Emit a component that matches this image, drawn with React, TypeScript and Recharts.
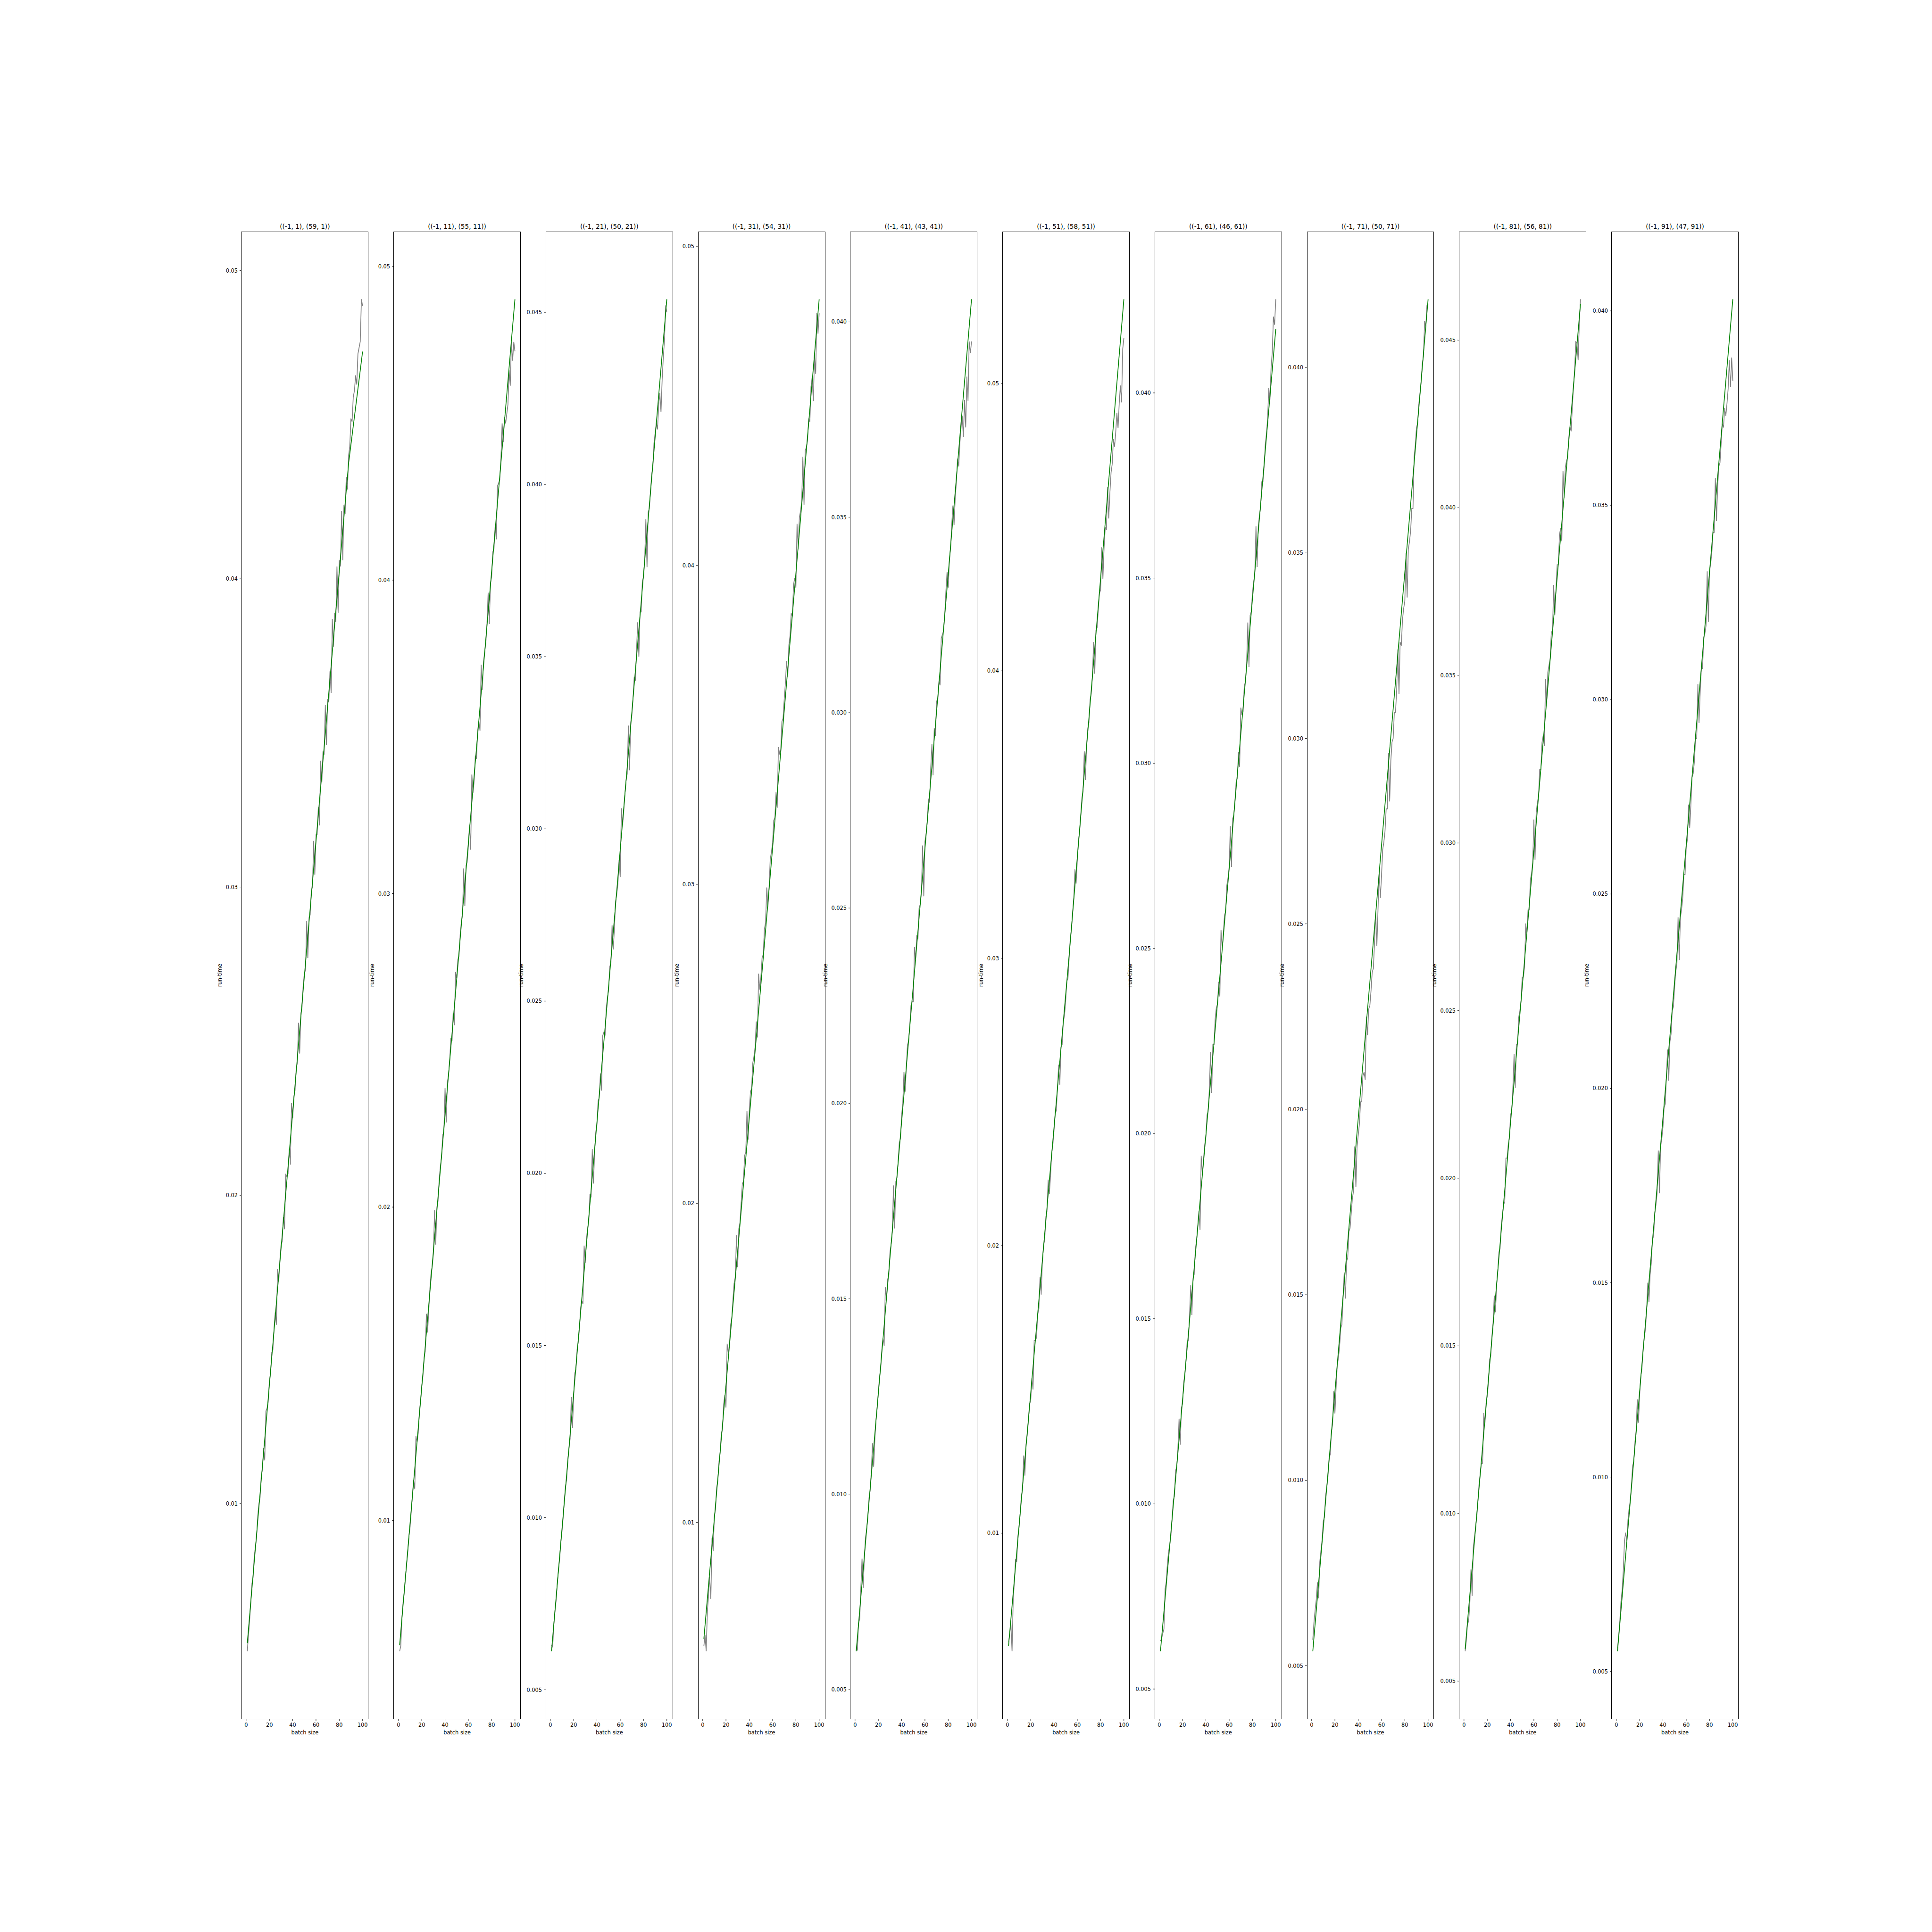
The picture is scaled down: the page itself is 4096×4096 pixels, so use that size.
import { LineChart, Line, XAxis, YAxis } from "recharts"

// one panel per fragment shape; measured run-time in ms for batch sizes 1..100
const titles = [
  "((-1, 1), (59, 1))",
  "((-1, 11), (55, 11))",
  "((-1, 21), (50, 21))",
  "((-1, 31), (54, 31))",
  "((-1, 41), (43, 41))",
  "((-1, 51), (58, 51))",
  "((-1, 61), (46, 61))",
  "((-1, 71), (50, 71))",
  "((-1, 81), (56, 81))",
  "((-1, 91), (47, 91))",
]

const runTimeMs1 = [
  5.21, 5.7, 6.2, 6.8, 7.4, 7.6, 8.3, 8.6, 8.9, 9.6, 10.0, 10.2, 10.9, 11.1, 11.8, 11.4, 13.0, 13.1, 13.3, 14.0,
  14.2, 14.9, 15.0, 15.7, 16.2, 15.8, 17.6, 17.2, 17.9, 18.4, 18.5, 19.3, 18.9, 20.7, 20.6, 20.7, 21.5, 21.0, 23.0, 22.5,
  23.2, 23.4, 24.1, 24.3, 25.6, 24.6, 25.9, 26.1, 26.8, 27.2, 27.3, 28.9, 27.7, 29.0, 29.1, 29.9, 30.0, 31.5, 30.4, 31.7,
  31.7, 32.6, 32.0, 34.1, 33.4, 34.4, 34.3, 35.9, 34.6, 36.1, 36.0, 37.0, 36.3, 38.7, 37.8, 38.9, 38.6, 40.4, 38.9, 40.6,
  40.4, 42.2, 40.6, 42.4, 42.1, 43.3, 42.9, 44.0, 44.3, 45.2, 45.1, 45.9, 46.1, 46.6, 46.3, 47.3, 47.5, 47.7, 49.07, 48.85,
]
const runTimeMs2 = [
  5.83, 6.0, 6.9, 7.4, 7.7, 8.2, 8.6, 9.0, 9.5, 9.8, 10.3, 10.8, 11.3, 11.0, 12.7, 12.5, 12.8, 13.5, 13.8, 14.3,
  14.6, 15.2, 15.4, 16.6, 16.0, 16.7, 17.4, 17.9, 18.1, 18.5, 19.9, 18.8, 20.0, 20.2, 20.9, 21.3, 21.6, 22.3, 22.4, 23.8,
  22.7, 24.0, 24.2, 24.7, 25.4, 25.3, 26.2, 25.8, 27.5, 27.3, 27.9, 28.0, 28.7, 29.1, 29.3, 30.8, 29.6, 30.9, 31.0, 31.5,
  32.2, 31.4, 33.8, 33.2, 33.6, 34.4, 34.3, 35.2, 35.5, 35.2, 37.3, 36.5, 37.4, 37.7, 38.0, 38.6, 39.6, 38.6, 39.9, 40.1,
  40.9, 41.0, 41.7, 41.3, 43.0, 43.1, 43.2, 43.9, 45.0, 44.4, 45.2, 45.0, 45.3, 45.6, 46.7, 46.2, 47.6, 47.0, 47.6, 47.3,
]
const runTimeMs3 = [
  6.3, 6.25, 6.9, 7.3, 7.6, 8.1, 8.5, 8.8, 9.3, 9.6, 10.0, 10.5, 10.9, 11.1, 11.7, 12.0, 12.3, 13.5, 12.6, 13.5,
  14.2, 14.3, 14.9, 15.1, 15.5, 16.1, 16.3, 16.2, 17.9, 17.4, 18.1, 18.4, 18.6, 19.4, 19.3, 20.7, 19.7, 20.6, 21.2, 21.4,
  22.1, 22.2, 22.9, 22.4, 24.0, 24.1, 24.0, 24.8, 25.1, 25.3, 26.0, 26.1, 27.2, 26.5, 27.1, 27.9, 28.1, 28.4, 29.1, 28.6,
  30.6, 30.1, 30.5, 31.0, 31.4, 31.6, 33.0, 31.7, 33.1, 33.3, 33.8, 34.4, 34.3, 35.2, 36.0, 35.0, 36.3, 36.3, 37.2, 37.3,
  37.8, 39.0, 37.6, 39.2, 39.3, 39.8, 40.3, 40.5, 41.2, 41.5, 41.8, 41.6, 42.3, 42.65, 42.1, 43.05, 43.7, 44.2, 45.2, 45.0,
]
const runTimeMs4 = [
  6.12, 6.47, 5.96, 7.2, 7.7, 8.3, 7.6, 9.5, 9.1, 10.2, 10.4, 11.1, 11.3, 11.9, 12.2, 12.8, 12.9, 13.7, 14.0, 13.6,
  15.6, 15.3, 15.6, 16.2, 16.4, 17.0, 17.5, 17.7, 19.0, 18.0, 19.2, 19.4, 20.0, 20.6, 20.7, 21.5, 21.6, 22.9, 22.0, 22.9,
  23.5, 23.6, 24.4, 24.6, 24.9, 25.7, 25.2, 27.2, 26.7, 27.1, 27.7, 27.8, 28.6, 28.8, 29.9, 29.3, 29.9, 30.8, 31.0, 31.3,
  32.0, 32.1, 32.9, 32.4, 34.3, 34.1, 34.2, 35.1, 35.2, 35.8, 36.3, 37.0, 36.5, 37.5, 37.8, 38.5, 38.4, 39.4, 39.6, 39.3,
  41.3, 40.5, 41.5, 41.7, 42.0, 43.4, 41.9, 43.6, 43.7, 43.9, 44.6, 44.5, 45.6, 45.9, 45.15, 46.6, 46.0, 47.9, 47.26, 47.9,
]
const runTimeMs5 = [
  6.1, 6.0, 6.7, 6.8, 7.6, 8.35, 7.6, 8.4, 8.9, 9.1, 9.4, 9.9, 10.1, 10.6, 11.3, 10.7, 11.4, 11.9, 12.2, 12.6,
  13.0, 13.2, 13.7, 14.0, 13.8, 15.3, 15.0, 15.5, 15.6, 16.2, 16.4, 16.7, 17.9, 16.8, 18.0, 18.1, 18.5, 19.0, 19.1, 19.7,
  20.0, 20.8, 20.3, 20.9, 21.5, 21.6, 22.0, 22.5, 22.6, 22.6, 24.0, 23.7, 24.3, 24.2, 25.0, 25.1, 25.4, 26.6, 25.3, 26.7,
  26.9, 27.2, 27.8, 27.7, 28.6, 29.2, 28.4, 29.6, 29.4, 30.3, 30.3, 30.8, 30.7, 31.9, 32.0, 32.1, 32.5, 33.1, 33.6, 33.2,
  33.9, 34.2, 34.8, 35.3, 34.8, 35.5, 35.9, 36.5, 36.3, 36.9, 37.3, 37.6, 37.05, 38.0, 37.3, 38.6, 37.98, 39.5, 39.2, 39.5,
]
const runTimeMs6 = [
  6.2, 6.5, 6.83, 5.89, 7.7, 8.3, 9.1, 9.0, 9.9, 10.2, 10.7, 11.3, 11.5, 12.7, 12.0, 13.1, 13.4, 13.9, 14.5, 14.6,
  15.4, 15.0, 16.7, 16.7, 16.8, 17.6, 17.8, 18.9, 18.3, 19.4, 20.0, 20.2, 21.0, 21.2, 22.3, 21.8, 22.4, 23.2, 23.5, 24.0,
  24.6, 24.7, 25.5, 26.3, 25.6, 26.9, 27.0, 27.8, 28.0, 28.5, 29.2, 29.3, 30.0, 30.7, 31.0, 31.6, 32.1, 33.1, 32.6, 33.4,
  34.1, 34.4, 35.0, 35.6, 35.8, 37.2, 36.2, 37.4, 38.0, 38.2, 39.0, 39.2, 39.8, 41.0, 39.9, 41.4, 41.5, 42.1, 42.7, 42.8,
  44.3, 43.2, 44.3, 45.0, 44.9, 46.4, 45.3, 46.2, 46.9, 47.2, 48.06, 47.8, 48.3, 48.98, 48.44, 49.3, 49.93, 49.34, 51.2, 51.58,
]
const runTimeMs7 = [
  6.3, 6.36, 6.5, 6.62, 7.7, 7.9, 8.4, 8.71, 8.9, 9.15, 9.6, 10.1, 10.2, 10.9, 11.0, 11.5, 12.3, 11.6, 12.6, 12.7,
  13.3, 13.5, 13.9, 14.4, 14.4, 15.1, 15.9, 15.1, 16.1, 16.2, 16.9, 17.1, 17.5, 17.9, 17.4, 19.4, 18.9, 19.3, 19.7, 19.9,
  20.5, 20.6, 21.2, 22.2, 21.1, 22.4, 22.4, 23.1, 23.4, 23.5, 24.1, 23.7, 25.5, 25.0, 25.4, 25.9, 26.0, 26.7, 26.9, 27.2,
  28.3, 27.2, 28.5, 28.6, 29.0, 29.5, 29.6, 30.3, 29.9, 31.5, 31.3, 31.4, 32.1, 32.2, 32.7, 33.8, 32.6, 34.0, 34.1, 34.6,
  34.9, 35.1, 36.4, 35.3, 36.4, 36.7, 36.9, 37.6, 37.6, 38.0, 38.6, 38.9, 39.3, 40.14, 39.82, 40.7, 41.1, 42.06, 41.84, 42.53,
]
const runTimeMs8 = [
  5.7, 6.17, 6.5, 6.79, 7.25, 6.82, 7.8, 8.1, 8.4, 8.9, 9.0, 9.6, 9.8, 10.1, 10.6, 10.7, 11.3, 11.5, 12.4, 11.8,
  12.5, 13.1, 13.3, 13.6, 14.1, 14.2, 14.9, 15.6, 14.9, 15.9, 16.0, 16.7, 16.8, 17.2, 17.6, 17.8, 19.0, 17.9, 19.0, 19.3,
  19.6, 20.2, 20.2, 20.9, 21.0, 20.8, 22.5, 22.0, 22.7, 22.8, 23.2, 23.7, 23.8, 24.5, 25.3, 24.4, 25.4, 26.4, 25.7, 26.3,
  27.0, 27.2, 27.5, 28.1, 28.1, 29.6, 28.3, 29.4, 29.9, 30.0, 30.7, 30.7, 31.3, 32.4, 31.2, 32.6, 32.5, 33.2, 33.5, 33.7,
  35.0, 33.8, 35.1, 35.3, 35.6, 36.2, 36.2, 37.6, 37.9, 38.38, 38.5, 39.0, 39.3, 39.6, 40.1, 40.3, 41.25, 41.1, 41.67, 41.71,
]
const runTimeMs9 = [
  5.89, 6.2, 6.69, 6.79, 7.3, 8.33, 7.54, 9.0, 9.29, 9.6, 9.9, 10.4, 10.9, 11.2, 11.5, 11.5, 13.0, 12.7, 13.3, 13.5,
  13.9, 14.6, 14.7, 15.3, 15.7, 16.5, 16.0, 16.8, 17.2, 17.8, 17.9, 18.6, 18.9, 19.2, 19.3, 20.6, 20.6, 21.0, 21.2, 21.9,
  22.0, 22.7, 23.7, 22.7, 24.0, 24.0, 24.8, 25.0, 25.3, 26.0, 26.0, 26.3, 27.6, 27.3, 28.0, 28.0, 28.9, 29.1, 29.4, 30.7,
  29.5, 30.9, 31.2, 31.4, 32.2, 32.2, 33.0, 33.2, 32.9, 34.9, 34.2, 35.1, 35.3, 35.5, 36.3, 36.3, 37.7, 36.8, 37.6, 38.3,
  38.3, 39.2, 39.4, 39.0, 41.1, 40.3, 41.2, 41.4, 41.5, 42.1, 42.41, 42.28, 43.0, 43.6, 44.11, 44.97, 44.9, 44.4, 45.5, 46.22,
]
const runTimeMs10 = [
  5.6, 5.9, 6.3, 6.8, 7.1, 7.6, 8.36, 8.57, 8.36, 8.9, 9.2, 9.4, 9.8, 10.3, 10.4, 10.9, 11.2, 12.0, 11.4, 12.1,
  12.6, 12.8, 13.3, 13.6, 13.8, 14.3, 15.0, 14.5, 15.2, 15.5, 16.1, 16.2, 16.8, 17.0, 17.3, 18.4, 17.3, 18.5, 18.7, 19.0,
  19.5, 19.6, 20.3, 21.0, 20.2, 21.2, 21.4, 22.0, 22.1, 22.6, 23.0, 23.2, 24.4, 23.3, 24.4, 24.6, 24.9, 25.5, 25.5, 26.2,
  26.4, 27.3, 26.7, 27.3, 28.0, 28.1, 28.4, 29.0, 29.0, 30.4, 29.4, 30.2, 30.8, 30.8, 31.6, 31.7, 31.9, 33.3, 32.0, 33.3,
  33.5, 33.8, 34.3, 34.3, 35.7, 34.6, 35.5, 36.0, 36.1, 36.6, 37.1, 37.0, 37.5, 37.3, 37.62, 38.0, 38.73, 38.04, 38.8, 38.2,
]
const runTimes = [
  runTimeMs1, runTimeMs2, runTimeMs3, runTimeMs4, runTimeMs5,
  runTimeMs6, runTimeMs7, runTimeMs8, runTimeMs9, runTimeMs10,
]

// green fit line, read at a few batch sizes
const fitBatches = [
  [1, 50, 88, 100], [1, 51, 100], [1, 52, 100], [1, 52, 100], [1, 52, 100],
  [1, 53, 100], [1, 53, 100], [1, 51, 100], [1, 52, 100], [1, 51, 100],
]
const fitMs = [
  [5.47, 27.1, 43.75, 47.37], [6.02, 27.7, 48.96], [6.12, 26.2, 45.38], [6.35, 27.7, 48.34], [5.98, 23.7, 40.58],
  [6.08, 30.1, 52.93], [6.02, 24.6, 41.72], [5.39, 23.8, 41.84], [5.95, 26.5, 46.08], [5.52, 23.1, 40.3],
]

const ticksCoarse = [0.01, 0.02, 0.03, 0.04, 0.05]
const ticksFine = [0.005, 0.01, 0.015, 0.02, 0.025, 0.03, 0.035, 0.04, 0.045]
const yTicks = [ticksCoarse, ticksCoarse, ticksFine, ticksCoarse, ticksFine, ticksCoarse, ticksFine, ticksFine, ticksFine, ticksFine]
const yDecimals = [2, 2, 3, 2, 3, 2, 3, 3, 3, 3]
const xTicks = [0, 20, 40, 60, 80, 100]

const FONT = '"DejaVu Sans", sans-serif'
const LEFT0 = 511.9
const PITCH = 322.74
const BOX_W = 268.95
const BOX_TOP = 491.4
const BOX_H = 3153.2
const YW = 60
const TOP_M = 10
const RIGHT_M = 10
const XH = 30
const TICK_FS = 11.4

function Panel({ i }: { i: number }) {
  const gray = runTimes[i]
  const rows: any[] = gray.map((v, k) => ({ batch: k + 1, runTime: v / 1000 }))
  fitBatches[i].forEach((b, k) => {
    rows[b - 1].fit = fitMs[i][k] / 1000
  })
  const all = [...gray, ...fitMs[i]]
  const lo = Math.min(...all) / 1000
  const hi = Math.max(...all) / 1000
  const pad = (hi - lo) * 0.05
  const boxLeft = LEFT0 + i * PITCH
  const dec = yDecimals[i]
  const tickStyle = { fill: "#000", fontSize: TICK_FS, fontFamily: FONT }
  const labelOffset = dec === 2 ? 44.5 : 51.8

  return (
    <>
      <div style={{ position: "absolute", left: boxLeft - YW, top: BOX_TOP - TOP_M }}>
        <LineChart
          width={YW + BOX_W + RIGHT_M}
          height={TOP_M + BOX_H + XH}
          data={rows}
          margin={{ top: TOP_M, right: RIGHT_M, left: 0, bottom: 0 }}
        >
          <XAxis
            dataKey="batch"
            type="number"
            domain={[-3.95, 104.95]}
            ticks={xTicks}
            interval={0}
            allowDataOverflow
            axisLine={false}
            tickSize={4}
            tickMargin={5}
            height={XH}
            tick={tickStyle}
            tickLine={{ stroke: "#000", strokeWidth: 0.9 }}
          />
          <YAxis
            type="number"
            domain={[lo - pad, hi + pad]}
            ticks={yTicks[i]}
            interval={0}
            allowDataOverflow
            axisLine={false}
            tickSize={4}
            tickMargin={4}
            width={YW}
            tick={tickStyle}
            tickLine={{ stroke: "#000", strokeWidth: 0.9 }}
            tickFormatter={(v: number) => v.toFixed(dec)}
          />
          <Line
            dataKey="runTime"
            stroke="#808080"
            strokeWidth={1.7}
            dot={false}
            isAnimationActive={false}
          />
          <Line
            dataKey="fit"
            stroke="#008000"
            strokeWidth={1.7}
            dot={false}
            connectNulls
            isAnimationActive={false}
          />
        </LineChart>
      </div>
      <div
        style={{
          position: "absolute",
          left: boxLeft - 0.45,
          top: BOX_TOP - 0.45,
          width: BOX_W + 0.9,
          height: BOX_H + 0.9,
          border: "0.9px solid #000",
          boxSizing: "border-box",
          pointerEvents: "none",
        }}
      />
      <div
        style={{
          position: "absolute",
          left: boxLeft - 60,
          width: BOX_W + 120,
          top: 473.8,
          fontSize: 13.65,
          lineHeight: "13.65px",
          textAlign: "center",
          fontFamily: FONT,
          color: "#000",
          whiteSpace: "nowrap",
        }}
      >
        {titles[i]}
      </div>
      <div
        style={{
          position: "absolute",
          left: boxLeft - 60,
          width: BOX_W + 120,
          top: 3668.4,
          fontSize: TICK_FS,
          lineHeight: TICK_FS + "px",
          textAlign: "center",
          fontFamily: FONT,
          color: "#000",
        }}
      >
        batch size
      </div>
      <div
        style={{
          position: "absolute",
          left: boxLeft - labelOffset - 50,
          width: 100,
          top: BOX_TOP + BOX_H / 2 - TICK_FS / 2,
          fontSize: TICK_FS,
          lineHeight: TICK_FS + "px",
          textAlign: "center",
          fontFamily: FONT,
          color: "#000",
          transform: "rotate(-90deg)",
        }}
      >
        run-time
      </div>
    </>
  )
}

export default function App() {
  return (
    <div
      style={{
        position: "absolute",
        left: 0,
        top: 0,
        width: 4096,
        height: 4096,
        background: "#fff",
        overflow: "hidden",
      }}
    >
      {titles.map((_, i) => (
        <Panel key={i} i={i} />
      ))}
    </div>
  )
}
